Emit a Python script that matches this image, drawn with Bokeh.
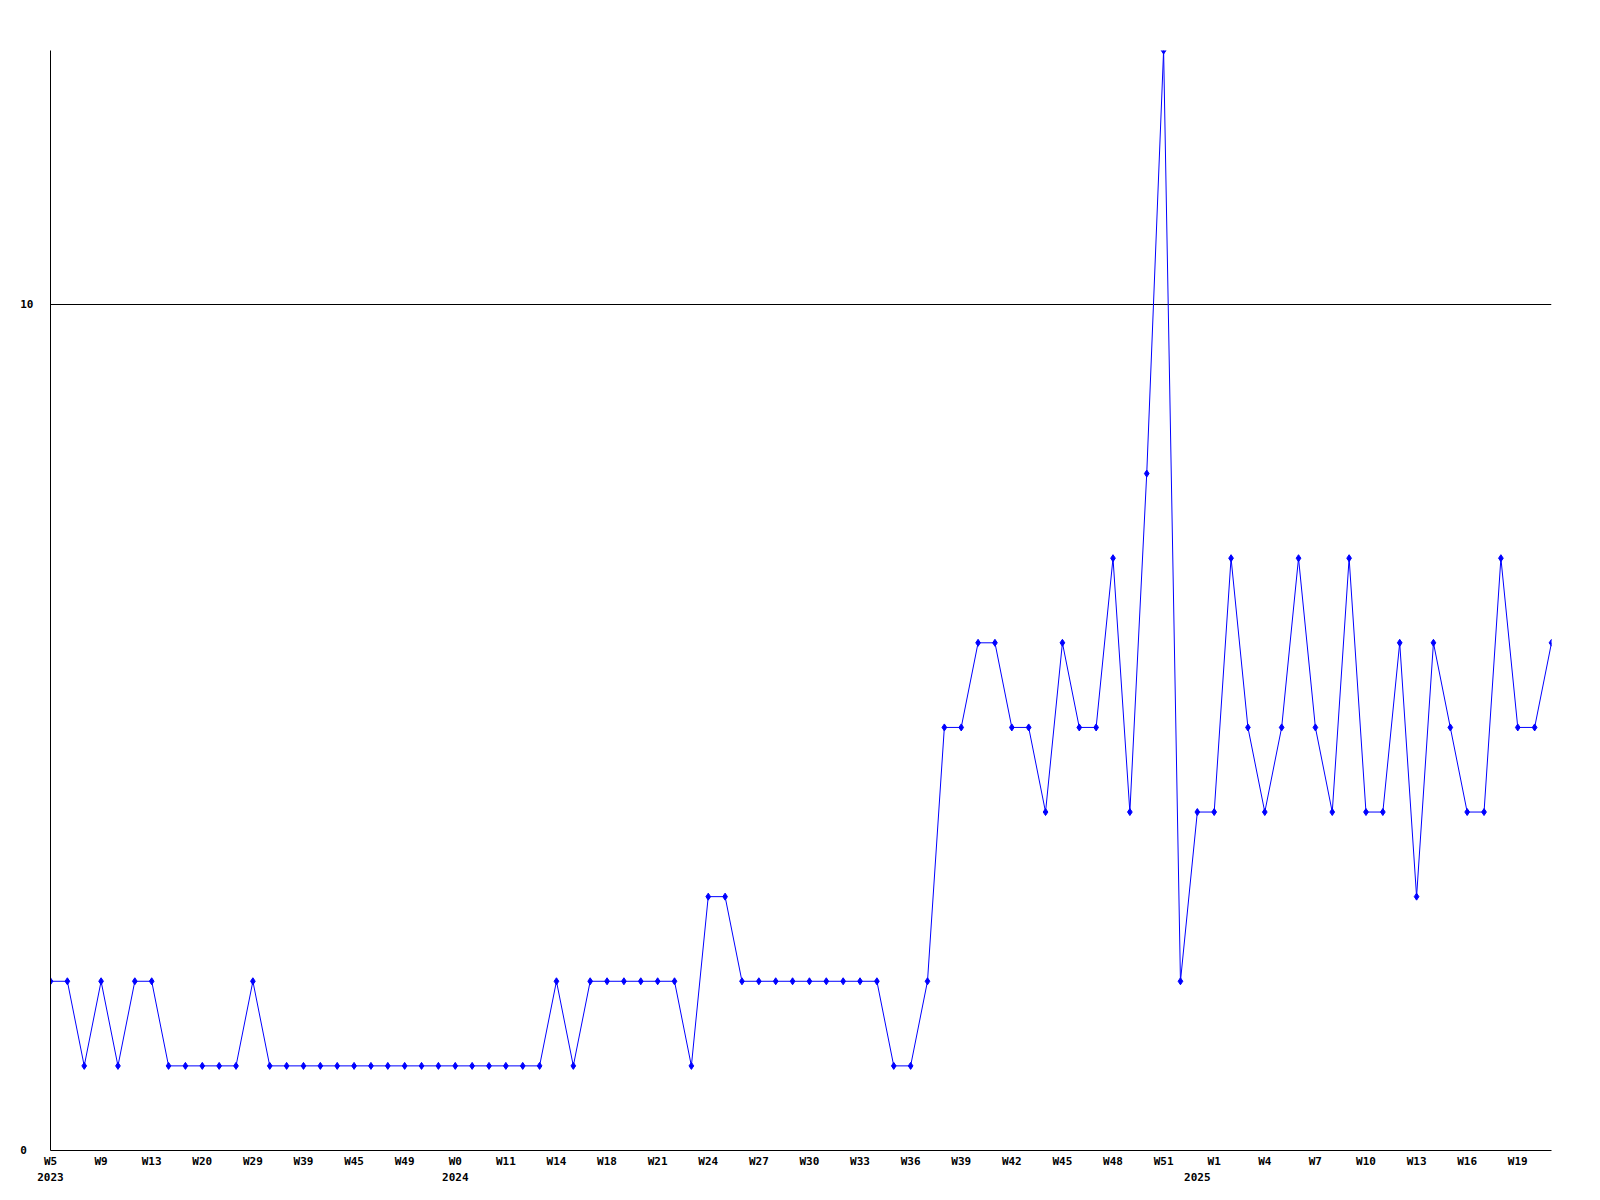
from bokeh.plotting import figure
from bokeh.models import Range1d, FixedTicker, LinearAxis
from bokeh.embed import file_html
from bokeh.resources import INLINE

# --- data ---------------------------------------------------------------
weeks = [
    # 2023
    "W5", "W6", "W8", "W9", "W10", "W12", "W13", "W15", "W17", "W20",
    "W23", "W26", "W29", "W33", "W36", "W39", "W41", "W43", "W45", "W46",
    "W48", "W49", "W50", "W52",
    # 2024
    "W0", "W4", "W8", "W11", "W12", "W13", "W14", "W16", "W17", "W18",
    "W19", "W20", "W21", "W22", "W23", "W24", "W25", "W26", "W27", "W28",
    "W29", "W30", "W31", "W32", "W33", "W34", "W35", "W36", "W37", "W38",
    "W39", "W40", "W41", "W42", "W43", "W44", "W45", "W46", "W47", "W48",
    "W49", "W50", "W51", "W52",
    # 2025
    "W0", "W1", "W2", "W3", "W4", "W5", "W6", "W7", "W8", "W9",
    "W10", "W11", "W12", "W13", "W14", "W15", "W16", "W17", "W18", "W19",
    "W20", "W21",
]

values = [
    2, 2, 1, 2, 1, 2, 2, 1, 1, 1,
    1, 1, 2, 1, 1, 1, 1, 1, 1, 1,
    1, 1, 1, 1, 1, 1, 1, 1, 1, 1,
    2, 1, 2, 2, 2, 2, 2, 2, 1, 3,
    3, 2, 2, 2, 2, 2, 2, 2, 2, 2,
    1, 1, 2, 5, 5, 6, 6, 5, 5, 4,
    6, 5, 5, 7, 4, 8, 13, 2, 4, 4,
    7, 5, 4, 5, 7, 5, 4, 7, 4, 4,
    6, 3, 6, 5, 4, 4, 7, 5, 5, 6,
]

years = ["2023", "2024", "2025"]
year_start_index = [0, 24, 68]

label_step = 3
y_ticks = [0, 10]

# --- figure -------------------------------------------------------------
x = list(range(len(values)))
FONT = "DejaVu Sans Mono"

p = figure(
    width=1592, height=1192,
    output_backend="svg", toolbar_location=None,
    x_range=Range1d(0, len(values) - 1),
    y_range=Range1d(0, 13),
    min_border_left=50, min_border_right=41,
    min_border_top=50, min_border_bottom=42,
    x_axis_type=None,
)
p.outline_line_color = None
p.background_fill_color = "white"
p.border_fill_color = "white"

# week axis
week_ticks = list(range(0, len(values), label_step))
week_axis = LinearAxis(ticker=FixedTicker(ticks=week_ticks),
                       major_label_overrides={i: weeks[i] for i in week_ticks})
# year axis
year_axis = LinearAxis(ticker=FixedTicker(ticks=year_start_index),
                       major_label_overrides={i: y for i, y in zip(year_start_index, years)})
for ax in (week_axis, year_axis):
    ax.major_tick_line_color = None
    ax.minor_tick_line_color = None
    ax.major_tick_out = 0
    ax.major_tick_in = 0
    ax.major_label_text_font = FONT
    ax.major_label_text_font_style = "bold"
    ax.major_label_text_font_size = "11px"
    ax.major_label_text_color = "black"
week_axis.axis_line_color = "black"
week_axis.major_label_standoff = 4
year_axis.axis_line_color = None
year_axis.major_label_standoff = 2
p.add_layout(week_axis, "below")
p.add_layout(year_axis, "below")

# y axis
yax = p.yaxis[0]
yax.ticker = FixedTicker(ticks=y_ticks)
yax.major_label_overrides = {0: "0\u00a0", 10: "10"}
yax.major_tick_line_color = None
yax.minor_tick_line_color = None
yax.major_tick_out = 0
yax.major_tick_in = 0
yax.major_label_standoff = 17
yax.major_label_text_font = FONT
yax.major_label_text_font_style = "bold"
yax.major_label_text_font_size = "11px"
yax.major_label_text_color = "black"
yax.axis_line_color = "black"

p.xgrid.grid_line_color = None
p.ygrid.ticker = FixedTicker(ticks=y_ticks)
p.ygrid.grid_line_color = "black"
p.ygrid.grid_line_alpha = 1.0
p.ygrid.grid_line_width = 1

p.line(x, values, line_color="#0000ff", line_width=1)
p.scatter(x, values, marker="diamond", size=7, color="#0000ff")

open("out.html", "w").write(file_html(p, INLINE))
